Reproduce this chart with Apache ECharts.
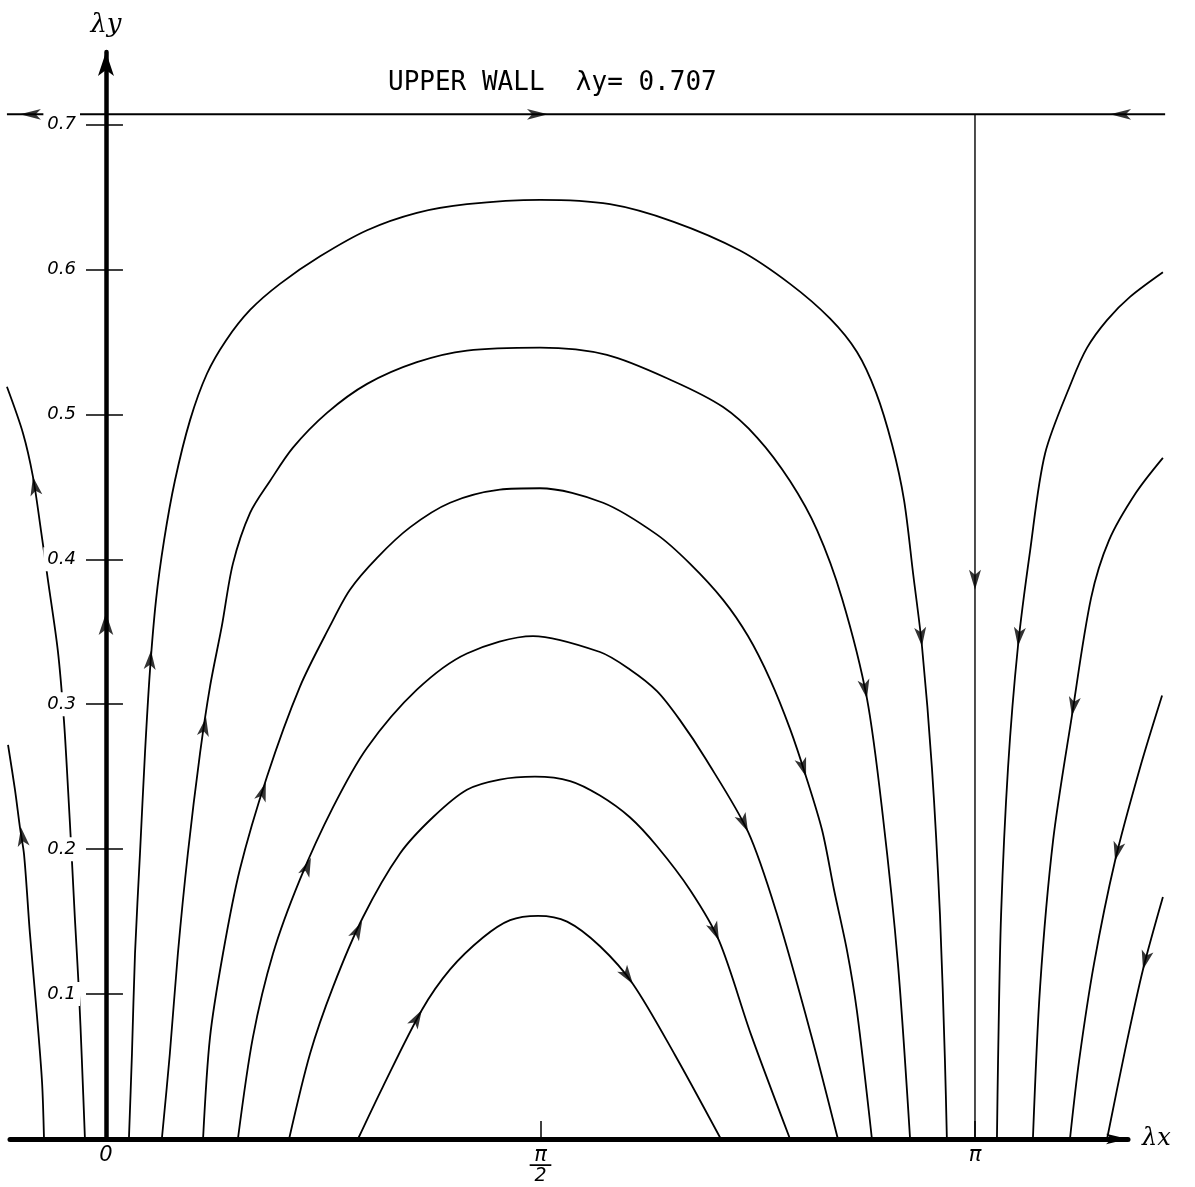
<!DOCTYPE html>
<html>
<head>
<meta charset="utf-8">
<script src="https://cdn.jsdelivr.net/npm/echarts@6/dist/echarts.min.js"></script>
<style>
html, body { margin: 0; padding: 0; background: #ffffff; }
#c { width: 1195px; height: 1187px; }
</style>
</head>
<body>
<div id="c"></div>
<script>
// ---- axis ticks ----
const xTickValues = [0, 1.5708, 3.1416];
const xTickLabels = ['0', 'π/2', 'π'];
const yTickValues = [0.1, 0.2, 0.3, 0.4, 0.5, 0.6, 0.7];
const upperWallValue = 0.707;

// ---- streamlines [λx, λy], listed in the flow direction ----
const archA = [[0.083,0],[0.094,0.059],[0.105,0.128],[0.123,0.197],[0.141,0.266],[0.159,0.323],[0.181,0.372],[0.210,0.413],[0.249,0.454],[0.304,0.496],[0.365,0.528],[0.434,0.551],[0.521,0.572],[0.629,0.590],[0.774,0.609],[0.944,0.627],[1.124,0.639],[1.305,0.645],[1.569,0.648],[1.822,0.645],[2.050,0.633],[2.292,0.613],[2.473,0.590],[2.618,0.566],[2.715,0.543],[2.784,0.515],[2.842,0.479],[2.885,0.441],[2.918,0.390],[2.950,0.340],[2.986,0.256],[3.015,0.155],[3.033,0.054],[3.040,0]];
const archB = [[0.202,0],[0.231,0.059],[0.260,0.128],[0.296,0.197],[0.340,0.266],[0.376,0.312],[0.419,0.354],[0.459,0.397],[0.521,0.432],[0.593,0.454],[0.676,0.477],[0.799,0.501],[0.944,0.521],[1.124,0.536],[1.305,0.544],[1.569,0.546],[1.811,0.541],[2.050,0.523],[2.231,0.505],[2.354,0.484],[2.473,0.454],[2.571,0.420],[2.661,0.373],[2.751,0.304],[2.809,0.222],[2.863,0.121],[2.907,0]];
const archC = [[0.351,0],[0.376,0.070],[0.423,0.128],[0.484,0.186],[0.582,0.250],[0.701,0.312],[0.810,0.354],[0.882,0.379],[0.980,0.401],[1.099,0.422],[1.244,0.439],[1.424,0.448],[1.569,0.449],[1.797,0.439],[1.992,0.417],[2.111,0.397],[2.231,0.372],[2.321,0.347],[2.401,0.317],[2.473,0.283],[2.531,0.250],[2.589,0.213],[2.632,0.172],[2.679,0.130],[2.715,0.088],[2.769,0]];
const archD = [[0.477,0],[0.531,0.070],[0.604,0.128],[0.701,0.179],[0.821,0.229],[0.944,0.270],[1.124,0.310],[1.305,0.335],[1.544,0.347],[1.786,0.336],[1.894,0.324],[1.992,0.309],[2.075,0.289],[2.169,0.262],[2.321,0.212],[2.426,0.155],[2.549,0.072],[2.646,0]];
const archE = [[0.662,0],[0.738,0.059],[0.821,0.105],[0.929,0.153],[1.063,0.197],[1.182,0.222],[1.305,0.241],[1.424,0.248],[1.551,0.250],[1.678,0.247],[1.786,0.237],[1.894,0.222],[1.992,0.202],[2.111,0.172],[2.216,0.137],[2.332,0.072],[2.473,0]];
const archF = [[0.911,0],[1.001,0.036],[1.142,0.089],[1.244,0.117],[1.363,0.139],[1.461,0.151],[1.562,0.154],[1.667,0.150],[1.786,0.133],[1.905,0.107],[2.057,0.058],[2.223,0]];
const rightR1 = [[3.821,0.598],[3.702,0.581],[3.619,0.565],[3.547,0.546],[3.492,0.523],[3.395,0.473],[3.341,0.406],[3.297,0.340],[3.261,0.256],[3.236,0.155],[3.225,0.054],[3.221,0]];
const rightR2 = [[3.821,0.470],[3.724,0.446],[3.626,0.413],[3.561,0.373],[3.492,0.292],[3.424,0.206],[3.377,0.105],[3.351,0]];
const rightR3 = [[3.818,0.306],[3.738,0.256],[3.648,0.192],[3.572,0.121],[3.518,0.054],[3.485,0]];
const rightR4 = [[3.821,0.167],[3.749,0.117],[3.684,0.061],[3.619,0]];
const leftL1 = [[-0.224,0],[-0.231,0.039],[-0.249,0.084],[-0.275,0.142],[-0.296,0.196],[-0.311,0.215],[-0.329,0.241],[-0.354,0.272]];
const leftL2 = [[-0.076,0],[-0.087,0.054],[-0.098,0.103],[-0.112,0.151],[-0.123,0.192],[-0.137,0.241],[-0.152,0.289],[-0.174,0.337],[-0.210,0.386],[-0.235,0.420],[-0.264,0.457],[-0.300,0.487],[-0.358,0.519]];
const upperWallLine = [[-0.358, upperWallValue],[3.829, upperWallValue]];
const piLine = [[3.1416, upperWallValue],[3.1416, 0]];
const axisFlow = [[0, 0],[0, upperWallValue]];

// ---- flow-direction arrows: [λx, λy, streamline, sense along the listed order] ----
const flowArrows = [
  [0.163,0.337,'A',1],[0.362,0.291,'B',1],[0.578,0.246,'C',1],[0.741,0.194,'D',1],[0.926,0.150,'E',1],[1.142,0.089,'F',1],
  [2.950,0.340,'A',1],[2.751,0.304,'B',1],[2.531,0.250,'C',1],[2.321,0.212,'D',1],[2.216,0.137,'E',1],[1.905,0.107,'F',1],
  [3.297,0.340,'R1',1],[3.492,0.292,'R2',1],[3.648,0.192,'R3',1],[3.749,0.117,'R4',1],
  [3.1416,0.379,'PI',1],
  [-0.307,0.215,'L1',1],[-0.264,0.457,'L2',1],
  [0,0.363,'Y',1],
  [-0.311,0.707,'W',-1],[1.598,0.707,'W',1],[3.630,0.707,'W',-1]
];

const curves = {
  A: archA, B: archB, C: archC, D: archD, E: archE, F: archF,
  R1: rightR1, R2: rightR2, R3: rightR3, R4: rightR4,
  L1: leftL1, L2: leftL2, W: upperWallLine, PI: piLine, Y: axisFlow
};

const arrowSize = { W: [8, 21], PI: [9, 20], Y: [11, 22] };
const defaultArrowSize = [9, 19];

const chart = echarts.init(document.getElementById('c'), null, { renderer: 'canvas' });

// grid 0 holds the data (wide enough for every streamline); grid 1 only carries the λx axis line
const dataGrid = { left: 5, right: 26, top: 52, bottom: 48 };
const axisGrid = { left: 10, right: 67, top: 52, bottom: 48 };
const xDataRange = [-0.365, 3.843];
const xAxisRange = [-0.347, 3.695];
const yRange = [0, 0.75];

const streamKeys = ['A','B','C','D','E','F','R1','R2','R3','R4','L1','L2'];
const series = streamKeys.map(k => ({
  type: 'line', name: k, data: curves[k], smooth: 0.3, symbol: 'none', silent: true,
  xAxisIndex: 0, yAxisIndex: 0, lineStyle: { color: '#000', width: 1.8 }, z: 2
}));
series.push({ type: 'line', name: 'W', data: upperWallLine, symbol: 'none', silent: true,
  xAxisIndex: 0, yAxisIndex: 0, lineStyle: { color: '#000', width: 2 }, z: 2 });
series.push({ type: 'line', name: 'PI', data: piLine, symbol: 'none', silent: true,
  xAxisIndex: 0, yAxisIndex: 0, lineStyle: { color: '#000', width: 1.4 }, z: 2 });
series.push({ id: 'arrows', type: 'scatter', data: [], silent: true, z: 6,
  xAxisIndex: 0, yAxisIndex: 0, symbol: 'arrow', itemStyle: { color: '#000' } });

const labelFont = 'DejaVu Sans';

chart.setOption({
  animation: false,
  backgroundColor: '#ffffff',
  title: {
    text: 'UPPER WALL  λy= 0.707',
    left: 388, top: 70, padding: 0,
    textStyle: { fontFamily: 'DejaVu Sans Mono', fontSize: 26, fontWeight: 'normal', color: '#000', lineHeight: 27 }
  },
  grid: [
    Object.assign({ containLabel: false, outerBoundsMode: 'none' }, dataGrid),
    Object.assign({ containLabel: false, outerBoundsMode: 'none' }, axisGrid)
  ],
  xAxis: [
    {
      gridIndex: 0, type: 'value', min: xDataRange[0], max: xDataRange[1], position: 'bottom',
      axisLine: { show: false, onZero: false },
      axisTick: { show: true, inside: true, length: 18, customValues: xTickValues,
        lineStyle: { color: '#000', width: 1.5 } },
      axisLabel: {
        show: true, customValues: xTickValues, margin: 8, color: '#000',
        formatter: function (v) {
          let i = 0, best = Infinity;
          xTickValues.forEach((t, j) => { const d = Math.abs(t - v); if (d < best) { best = d; i = j; } });
          const s = xTickLabels[i];
          if (s.indexOf('/') > 0) {
            const parts = s.split('/');
            return '{n|' + parts[0] + '}\n{b|—}\n{d|' + parts[1] + '}';
          }
          return '{n|' + s + '}';
        },
        rich: {
          n: { fontFamily: labelFont, fontStyle: 'italic', fontSize: 21, lineHeight: 17, color: '#000', align: 'center' },
          b: { fontFamily: labelFont, fontSize: 24, lineHeight: 4, color: '#000', align: 'center' },
          d: { fontFamily: labelFont, fontStyle: 'italic', fontSize: 19, lineHeight: 17, color: '#000', align: 'center' }
        }
      },
      splitLine: { show: false }
    },
    {
      gridIndex: 1, type: 'value', min: xAxisRange[0], max: xAxisRange[1], position: 'bottom',
      name: 'λx', nameLocation: 'end', nameGap: 14,
      nameTextStyle: { fontFamily: 'DejaVu Serif', fontStyle: 'italic', fontSize: 24, color: '#000' },
      axisLine: { show: true, onZero: false, symbol: ['none', 'arrow'], symbolSize: [8, 22],
        lineStyle: { color: '#000', width: 5 } },
      axisTick: { show: false }, axisLabel: { show: false }, splitLine: { show: false }
    }
  ],
  yAxis: [
    {
      gridIndex: 0, type: 'value', min: yRange[0], max: yRange[1], position: 'left', z: 3,
      name: 'λy', nameLocation: 'end', nameGap: 14,
      nameTextStyle: { fontFamily: 'DejaVu Serif', fontStyle: 'italic', fontSize: 26, color: '#000' },
      axisLine: { show: true, onZero: true, onZeroAxisIndex: 0, symbol: ['none', 'arrow'], symbolSize: [12, 24],
        lineStyle: { color: '#000', width: 4.5 } },
      axisTick: { show: true, inside: false, length: 20, customValues: yTickValues,
        lineStyle: { color: '#000', width: 1.5 } },
      axisLabel: { show: false },
      splitLine: { show: false }
    },
    {
      gridIndex: 0, type: 'value', min: yRange[0], max: yRange[1], position: 'left', z: 3,
      axisLine: { show: true, onZero: true, onZeroAxisIndex: 0, lineStyle: { opacity: 0 } },
      axisTick: { show: true, inside: true, length: 17, customValues: yTickValues,
        lineStyle: { color: '#000', width: 1.5 } },
      axisLabel: { show: false },
      splitLine: { show: false }
    },
    {
      // label carrier: sits on λx = 0 (offset inward from the grid edge by the λx = 0 position)
      gridIndex: 0, type: 'value', min: yRange[0], max: yRange[1], position: 'left', z: 4,
      offset: -Math.round((0 - xDataRange[0]) / (xDataRange[1] - xDataRange[0]) * (1195 - dataGrid.left - dataGrid.right)),
      axisLine: { show: false, onZero: false },
      axisTick: { show: false },
      axisLabel: {
        show: true, customValues: yTickValues, margin: 26, color: '#000',
        fontFamily: labelFont, fontStyle: 'italic', fontSize: 18,
        backgroundColor: '#ffffff', padding: [3, 4],
        formatter: function (v) { return Number(v).toFixed(1); }
      },
      splitLine: { show: false }
    },
    {
      gridIndex: 1, type: 'value', min: yRange[0], max: yRange[1], show: false
    }
  ],
  series: series
});

function directionAt(key, x, y) {
  const f = { xAxisIndex: 0, yAxisIndex: 0 };
  const pts = curves[key].map(p => chart.convertToPixel(f, p));
  const q = chart.convertToPixel(f, [x, y]);
  let bestI = 0, bestT = 0, bd = Infinity;
  for (let i = 0; i < pts.length - 1; i++) {
    const a = pts[i], b = pts[i + 1];
    const dx = b[0] - a[0], dy = b[1] - a[1];
    const l2 = dx * dx + dy * dy;
    let t = l2 ? ((q[0] - a[0]) * dx + (q[1] - a[1]) * dy) / l2 : 0;
    t = Math.max(0, Math.min(1, t));
    const px = a[0] + t * dx, py = a[1] + t * dy;
    const d = (px - q[0]) * (px - q[0]) + (py - q[1]) * (py - q[1]);
    if (d < bd) { bd = d; bestI = i; bestT = t; }
  }
  const n = pts.length;
  let p0, p1;
  if (bestT < 0.5) { p0 = pts[Math.max(bestI - 1, 0)]; p1 = pts[bestI + 1]; }
  else { p0 = pts[bestI]; p1 = pts[Math.min(bestI + 2, n - 1)]; }
  return [p1[0] - p0[0], p1[1] - p0[1]];
}

const arrowData = flowArrows.map(a => {
  const dir = directionAt(a[2], a[0], a[1]);
  const dx = dir[0] * a[3], dy = dir[1] * a[3];
  const deg = Math.atan2(-dy, dx) * 180 / Math.PI - 90;
  return { value: [a[0], a[1]], symbolRotate: deg, symbolSize: arrowSize[a[2]] || defaultArrowSize };
});

chart.setOption({ series: [{ id: 'arrows', data: arrowData }] });
</script>
</body>
</html>
